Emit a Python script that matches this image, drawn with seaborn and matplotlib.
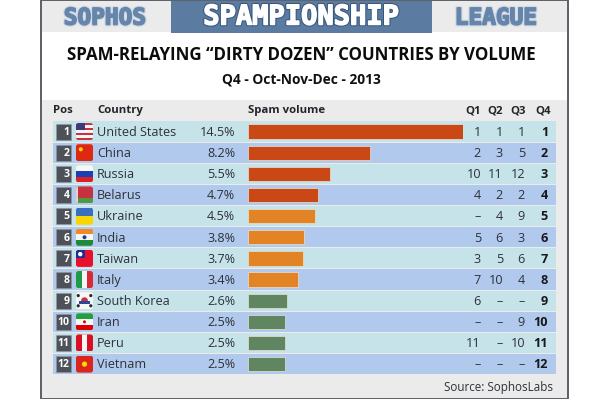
import matplotlib
matplotlib.use("Agg")
import matplotlib.pyplot as plt
import matplotlib.patheffects as pe
from matplotlib.patches import Rectangle, FancyBboxPatch, Circle
import pandas as pd
import seaborn as sns

countries = ["United States", "China", "Russia", "Belarus", "Ukraine", "India", "Taiwan",
             "Italy", "South Korea", "Iran", "Peru", "Vietnam"]
volumes = [14.5, 8.2, 5.5, 4.7, 4.5, 3.8, 3.7, 3.4, 2.6, 2.5, 2.5, 2.5]
tiers = ["high"] * 4 + ["mid"] * 4 + ["low"] * 4
q1 = ["1", "2", "10", "4", "–", "5", "3", "7", "6", "–", "11", "–"]
q2 = ["1", "3", "11", "2", "4", "6", "5", "10", "–", "–", "–", "–"]
q3 = ["1", "5", "12", "2", "9", "3", "6", "4", "–", "9", "10", "–"]
q4 = ["1", "2", "3", "4", "5", "6", "7", "8", "9", "10", "11", "12"]
tier_colors = {"high": "#c94816", "mid": "#e28425", "low": "#5f8561"}

sns.set_theme(style="white")
plt.rcParams["font.family"] = ["Open Sans", "DejaVu Sans"]

W, H = 610, 400
fig = plt.figure(figsize=(W / 100, H / 100), dpi=100, facecolor="white")

TOP, PITCH = 121.0, 21.14
N = len(countries)
def cy(i):
    return TOP + PITCH * (i + 0.5)

bg = fig.add_axes([0, 0, 1, 1], zorder=0)
bg.set_xlim(0, W); bg.set_ylim(H, 0); bg.axis("off")
# frame and header
bg.add_patch(Rectangle((41, 0.5), 527, 397.5, fc="white", ec="#5a5f66", lw=1.4))
bg.add_patch(Rectangle((42, 1), 525, 31, fc="#ebebeb", ec="none"))
bg.add_patch(Rectangle((171, 1), 261, 31.5, fc="#5c7ba1", ec="none"))
bg.add_patch(Rectangle((42, 100), 525, 297.5, fc="#ebebeb", ec="none"))
for i in range(N):
    bg.add_patch(Rectangle((53, TOP + PITCH * i + 0.4), 503, PITCH - 1.0,
                           fc="#c6e3e9" if i % 2 == 0 else "#b1c9ec", ec="none"))

ax = fig.add_axes([248 / W, 1 - (TOP + PITCH * N) / H, 215 / W, PITCH * N / H], zorder=1)
df = pd.DataFrame({"country": countries, "volume": volumes, "tier": tiers})
sns.barplot(data=df, x="volume", y="country", hue="tier", palette=tier_colors, dodge=False,
            legend=False, width=0.68, ax=ax, saturation=1, edgecolor="#e8e3d5", linewidth=0.5)
ax.set_xlim(0, 14.5)
ax.set_ylim(N - 0.5, -0.5)
ax.axis("off")
ax.patch.set_alpha(0)

ov = fig.add_axes([0, 0, 1, 1], zorder=2)
ov.set_xlim(0, W); ov.set_ylim(H, 0); ov.axis("off"); ov.patch.set_alpha(0)

def banner(x, y, s, size, fc, ec, outer, inner):
    t = ov.text(x, y, s, ha="center", va="center", fontsize=size, fontweight="bold",
                family="DejaVu Sans Mono", color=fc)
    t.set_path_effects([pe.Stroke(linewidth=outer, foreground=ec),
                        pe.Stroke(linewidth=inner, foreground=fc), pe.Normal()])

banner(105, 18, "SOPHOS", 16.4, "#6685ab", "#d3dbe6", 3.0, 1.2)
banner(301.5, 17.5, "SPAMPIONSHIP", 19.5, "#ffffff", "#35577f", 2.6, 1.1)
banner(496, 18, "LEAGUE", 16.4, "#6685ab", "#d3dbe6", 3.0, 1.2)

ov.text(301, 55.5, "SPAM-RELAYING “DIRTY DOZEN” COUNTRIES BY VOLUME", ha="center", va="center",
        fontsize=12.2, fontweight="bold", color="#0c0c0c")
ov.text(301, 79, "Q4 - Oct-Nov-Dec - 2013", ha="center", va="center",
        fontsize=9.9, fontweight="bold", color="#111111")

hdr = dict(va="center", fontsize=8.2, fontweight="bold", color="#22252a")
HY = 110.8
ov.text(53, HY, "Pos", ha="left", **hdr)
ov.text(97, HY, "Country", ha="left", **hdr)
ov.text(248, HY, "Spam volume", ha="left", **hdr)
for x, s in zip([473, 495, 518, 543], ["Q1", "Q2", "Q3", "Q4"]):
    ov.text(x, HY, s, ha="center", **hdr)

def flag(i, draw):
    x0, y0, w, h = 76, cy(i) - 8.5, 17, 17
    clip = FancyBboxPatch((x0 + 2.5, y0 + 2.5), w - 5, h - 5, boxstyle="round,pad=2.5",
                          fc="none", ec="none", transform=ov.transData)
    ov.add_patch(clip)
    def R(fx, fy, fw, fh, c):
        p = Rectangle((x0 + fx * w, y0 + fy * h), fw * w, fh * h, fc=c, ec="none")
        ov.add_patch(p); p.set_clip_path(clip)
    def C(fx, fy, r, c):
        p = Circle((x0 + fx * w, y0 + fy * h), r, fc=c, ec="none")
        ov.add_patch(p); p.set_clip_path(clip)
    draw(R, C)

def us(R, C):
    for k in range(7):
        R(0, k / 7, 1, 1 / 7, "#c8313e" if k % 2 == 0 else "#f4f4f4")
    R(0, 0, 0.5, 3 / 7, "#3c3b7e")
def cn(R, C):
    R(0, 0, 1, 1, "#de2910"); C(0.28, 0.3, 2.0, "#ffde00")
def ru(R, C):
    R(0, 0, 1, 1 / 3, "#f6f6f6"); R(0, 1 / 3, 1, 1 / 3, "#1c3fb5"); R(0, 2 / 3, 1, 1 / 3, "#dd1f26")
def by(R, C):
    R(0, 0, 1, 0.66, "#c8313e"); R(0, 0.66, 1, 0.34, "#4f9a3f"); R(0, 0, 0.14, 1, "#e8d0c8")
def ua(R, C):
    R(0, 0, 1, 0.5, "#3a6fc0"); R(0, 0.5, 1, 0.5, "#fbd500")
def ind(R, C):
    R(0, 0, 1, 1 / 3, "#f08a24"); R(0, 1 / 3, 1, 1 / 3, "#f6f6f6"); R(0, 2 / 3, 1, 1 / 3, "#1d8a3a")
    C(0.5, 0.5, 2.0, "#2a3a8c")
def tw(R, C):
    R(0, 0, 1, 1, "#e8112d"); R(0, 0, 0.5, 0.5, "#1a2f96"); C(0.25, 0.25, 2.2, "#ffffff")
def it(R, C):
    R(0, 0, 1 / 3, 1, "#1d9a4b"); R(1 / 3, 0, 1 / 3, 1, "#f6f6f6"); R(2 / 3, 0, 1 / 3, 1, "#d62b35")
def kr(R, C):
    R(0, 0, 1, 1, "#f6f6f6"); C(0.5, 0.5, 3.4, "#cd2e3a"); R(0.2, 0.5, 0.6, 0.17, "#254a9c")
    for fx, fy in [(0.13, 0.2), (0.87, 0.2), (0.13, 0.8), (0.87, 0.8)]:
        C(fx, fy, 1.6, "#2a2a2a")
def ir(R, C):
    R(0, 0, 1, 1 / 3, "#239f40"); R(0, 1 / 3, 1, 1 / 3, "#f6f6f6"); R(0, 2 / 3, 1, 1 / 3, "#da0000")
    C(0.5, 0.5, 1.5, "#da0000")
def pe_(R, C):
    R(0, 0, 1, 1, "#d91023"); R(1 / 3, 0, 1 / 3, 1, "#f6f6f6")
def vn(R, C):
    R(0, 0, 1, 1, "#da251d"); C(0.5, 0.5, 2.6, "#ffde00")

flags = [us, cn, ru, by, ua, ind, tw, it, kr, ir, pe_, vn]

row = dict(va="center", fontsize=9.1, color="#2d3238")
for i in range(N):
    y = cy(i)
    ty = y + 0.8
    ov.add_patch(Rectangle((56, y - 8), 15, 16, fc="#4e5258", ec="#8d96a3", lw=0.4))
    ov.text(69.5, ty, q4[i], ha="right", va="center", fontsize=7.6, fontweight="bold", color="white")
    flag(i, flags[i])
    ov.text(97, ty, countries[i], ha="left", **row)
    ov.text(235, ty, f"{volumes[i]:.1f}%", ha="right", **row)
    ov.text(481, ty, q1[i], ha="right", **row)
    ov.text(503, ty, q2[i], ha="right", **row)
    ov.text(525, ty, q3[i], ha="right", **row)
    ov.text(548, ty, q4[i], ha="right", va="center", fontsize=9.1, fontweight="bold", color="#16181b")

ov.text(553, 387.5, "Source: SophosLabs", ha="right", va="center", fontsize=8.4, color="#2d3238")

fig.savefig("out.png", dpi=100)
